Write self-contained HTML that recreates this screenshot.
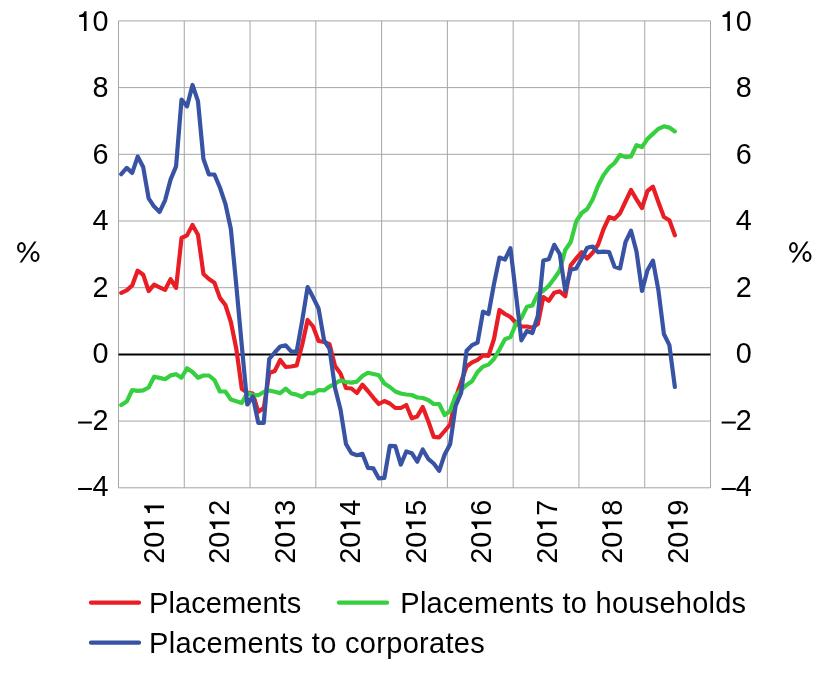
<!DOCTYPE html>
<html><head><meta charset="utf-8"><title>Chart</title>
<style>html,body{margin:0;padding:0;background:#fff;}body{width:828px;height:686px;overflow:hidden;font-family:"Liberation Sans", sans-serif;}svg{display:block;will-change:transform;}</style>
</head><body>
<svg width="828" height="686" viewBox="0 0 828 686"><defs><path id="one" d="M540 0H722V1409H575C545 1270 420 1160 200 1145V1003H540Z"/></defs><rect width="828" height="686" fill="#fff"/><g stroke="#a6a6a6" stroke-width="1" fill="none"><line x1="118.5" y1="20.90" x2="710.5" y2="20.90"/><line x1="118.5" y1="87.60" x2="710.5" y2="87.60"/><line x1="118.5" y1="154.30" x2="710.5" y2="154.30"/><line x1="118.5" y1="221.00" x2="710.5" y2="221.00"/><line x1="118.5" y1="287.70" x2="710.5" y2="287.70"/><line x1="118.5" y1="421.10" x2="710.5" y2="421.10"/><line x1="118.5" y1="487.80" x2="710.5" y2="487.80"/><line x1="118.50" y1="20.9" x2="118.50" y2="487.80"/><line x1="184.28" y1="20.9" x2="184.28" y2="487.80"/><line x1="250.06" y1="20.9" x2="250.06" y2="487.80"/><line x1="315.83" y1="20.9" x2="315.83" y2="487.80"/><line x1="381.61" y1="20.9" x2="381.61" y2="487.80"/><line x1="447.39" y1="20.9" x2="447.39" y2="487.80"/><line x1="513.17" y1="20.9" x2="513.17" y2="487.80"/><line x1="578.94" y1="20.9" x2="578.94" y2="487.80"/><line x1="644.72" y1="20.9" x2="644.72" y2="487.80"/><line x1="710.50" y1="20.9" x2="710.50" y2="487.80"/></g><line x1="118.5" y1="354.5" x2="710.5" y2="354.5" stroke="#000" stroke-width="2"/><polyline points="121.24,292.90 126.72,290.40 132.20,285.40 137.69,270.60 143.17,274.70 148.65,291.00 154.13,284.70 159.61,287.30 165.09,289.80 170.57,279.10 176.06,287.90 181.54,238.00 187.02,235.40 192.50,224.90 197.98,234.70 203.46,274.00 208.94,279.00 214.43,282.80 219.91,297.90 225.39,305.00 230.87,322.00 236.35,349.00 241.83,389.00 247.31,392.50 252.80,393.50 258.28,411.80 263.76,408.00 269.24,373.00 274.72,371.00 280.20,360.00 285.69,367.00 291.17,366.50 296.65,365.50 302.13,345.00 307.61,320.00 313.09,326.50 318.57,341.00 324.06,342.00 329.54,344.30 335.02,366.00 340.50,373.50 345.98,388.00 351.46,388.50 356.94,393.00 362.43,384.70 367.91,391.00 373.39,397.80 378.87,404.00 384.35,401.00 389.83,403.50 395.31,408.00 400.80,408.00 406.28,405.00 411.76,418.30 417.24,416.40 422.72,407.00 428.20,421.00 433.69,436.80 439.17,437.40 444.65,431.00 450.13,424.50 455.61,398.00 461.09,382.00 466.57,366.50 472.06,362.30 477.54,359.80 483.02,355.30 488.50,355.80 493.98,339.00 499.46,310.00 504.94,314.00 510.43,317.00 515.91,322.80 521.39,326.50 526.87,326.50 532.35,327.70 537.83,324.00 543.31,297.10 548.80,300.80 554.28,292.70 559.76,291.40 565.24,296.30 570.72,265.40 576.20,258.50 581.69,252.20 587.17,258.50 592.65,252.80 598.13,244.50 603.61,229.00 609.09,217.10 614.57,218.90 620.06,213.20 625.54,201.50 631.02,190.00 636.50,199.40 641.98,208.00 647.46,191.00 652.94,186.70 658.43,202.30 663.91,217.00 669.39,220.20 674.87,235.30" fill="none" stroke="#e91e25" stroke-width="4.2" stroke-linejoin="round" stroke-linecap="round"/><polyline points="121.24,405.10 126.72,401.60 132.20,390.00 137.69,390.90 143.17,390.30 148.65,387.50 154.13,376.70 159.61,377.90 165.09,379.20 170.57,375.40 176.06,374.20 181.54,377.70 187.02,368.30 192.50,372.00 197.98,377.70 203.46,375.50 208.94,375.50 214.43,380.00 219.91,391.50 225.39,391.50 230.87,399.60 236.35,401.30 241.83,403.00 247.31,393.00 252.80,395.00 258.28,395.20 263.76,392.00 269.24,390.50 274.72,391.70 280.20,393.10 285.69,388.60 291.17,393.50 296.65,394.60 302.13,397.00 307.61,393.00 313.09,393.50 318.57,390.00 324.06,390.40 329.54,386.60 335.02,383.60 340.50,380.30 345.98,382.00 351.46,382.60 356.94,381.60 362.43,376.00 367.91,372.80 373.39,374.00 378.87,375.30 384.35,383.50 389.83,387.00 395.31,391.50 400.80,393.50 406.28,394.50 411.76,395.00 417.24,397.50 422.72,398.00 428.20,400.00 433.69,404.00 439.17,404.00 444.65,415.00 450.13,410.80 455.61,395.50 461.09,390.00 466.57,385.00 472.06,381.30 477.54,372.00 483.02,366.60 488.50,364.60 493.98,359.00 499.46,349.50 504.94,339.20 510.43,337.10 515.91,324.00 521.39,318.00 526.87,306.80 532.35,305.50 537.83,293.90 543.31,290.80 548.80,285.80 554.28,278.50 559.76,270.50 565.24,250.00 570.72,242.00 576.20,221.50 581.69,213.00 587.17,209.00 592.65,199.50 598.13,185.50 603.61,175.00 609.09,167.70 614.57,163.00 620.06,155.00 625.54,157.10 631.02,156.50 636.50,145.20 641.98,147.10 647.46,138.90 652.94,133.90 658.43,128.80 663.91,126.30 669.39,127.60 674.87,131.40" fill="none" stroke="#35cf40" stroke-width="4.2" stroke-linejoin="round" stroke-linecap="round"/><polyline points="121.24,174.20 126.72,167.90 132.20,172.90 137.69,156.60 143.17,167.00 148.65,198.40 154.13,206.60 159.61,211.90 165.09,200.30 170.57,179.60 176.06,166.40 181.54,99.50 187.02,106.40 192.50,85.00 197.98,101.20 203.46,159.00 208.94,174.50 214.43,174.50 219.91,187.50 225.39,203.80 230.87,229.00 236.35,286.00 241.83,346.00 247.31,404.50 252.80,396.50 258.28,422.80 263.76,422.80 269.24,359.00 274.72,352.50 280.20,346.50 285.69,345.30 291.17,351.30 296.65,351.70 302.13,321.00 307.61,287.00 313.09,297.30 318.57,308.50 324.06,340.20 329.54,349.00 335.02,388.00 340.50,409.50 345.98,444.00 351.46,453.30 356.94,455.20 362.43,453.80 367.91,467.80 373.39,468.40 378.87,478.40 384.35,477.80 389.83,445.80 395.31,446.20 400.80,464.60 406.28,451.50 411.76,453.20 417.24,461.70 422.72,449.50 428.20,458.80 433.69,463.50 439.17,470.80 444.65,454.50 450.13,444.20 455.61,406.00 461.09,393.00 466.57,350.80 472.06,345.10 477.54,342.60 483.02,311.60 488.50,314.00 493.98,284.00 499.46,257.60 504.94,259.50 510.43,248.20 515.91,294.00 521.39,340.30 526.87,331.00 532.35,333.00 537.83,316.00 543.31,260.50 548.80,259.30 554.28,244.80 559.76,254.00 565.24,291.00 570.72,269.80 576.20,268.50 581.69,258.50 587.17,247.80 592.65,246.50 598.13,252.20 603.61,251.60 609.09,252.10 614.57,266.80 620.06,268.40 625.54,242.00 631.02,230.70 636.50,251.50 641.98,291.00 647.46,270.30 652.94,260.60 658.43,290.40 663.91,334.00 669.39,345.20 674.87,387.00" fill="none" stroke="#3953a4" stroke-width="4.2" stroke-linejoin="round" stroke-linecap="round"/><g font-family='"Liberation Sans", sans-serif' font-size="28.8" fill="#000"><text transform="translate(108.4,31.00) scale(1,1)" text-anchor="end"> 0</text><text transform="translate(751.8,31.00) scale(1,1)" text-anchor="end"> 0</text><text transform="translate(108.4,97.44) scale(1,1)" text-anchor="end">8</text><text transform="translate(751.8,97.44) scale(1,1)" text-anchor="end">8</text><text transform="translate(108.4,163.88) scale(1,1)" text-anchor="end">6</text><text transform="translate(751.8,163.88) scale(1,1)" text-anchor="end">6</text><text transform="translate(108.4,230.32) scale(1,1)" text-anchor="end">4</text><text transform="translate(751.8,230.32) scale(1,1)" text-anchor="end">4</text><text transform="translate(108.4,296.76) scale(1,1)" text-anchor="end">2</text><text transform="translate(751.8,296.76) scale(1,1)" text-anchor="end">2</text><text transform="translate(108.4,363.20) scale(1,1)" text-anchor="end">0</text><text transform="translate(751.8,363.20) scale(1,1)" text-anchor="end">0</text><text transform="translate(108.4,429.64) scale(1,1)" text-anchor="end">2</text><text transform="translate(751.8,429.64) scale(1,1)" text-anchor="end">2</text><text transform="translate(108.4,496.08) scale(1,1)" text-anchor="end">4</text><text transform="translate(751.8,496.08) scale(1,1)" text-anchor="end">4</text><text transform="translate(164.00,563.8) rotate(-90) scale(1,1)">20  </text><text transform="translate(229.45,563.8) rotate(-90) scale(1,1)">20 2</text><text transform="translate(294.90,563.8) rotate(-90) scale(1,1)">20 3</text><text transform="translate(360.35,563.8) rotate(-90) scale(1,1)">20 4</text><text transform="translate(425.80,563.8) rotate(-90) scale(1,1)">20 5</text><text transform="translate(491.25,563.8) rotate(-90) scale(1,1)">20 6</text><text transform="translate(556.70,563.8) rotate(-90) scale(1,1)">20 7</text><text transform="translate(622.15,563.8) rotate(-90) scale(1,1)">20 8</text><text transform="translate(687.60,563.8) rotate(-90) scale(1,1)">20 9</text><text x="149.0" y="613.0" font-size="29" letter-spacing="0.08">Placements</text><text x="400.3" y="613.0" font-size="29" letter-spacing="0.245">Placements to households</text><text x="149.0" y="653.1" font-size="29" letter-spacing="0.30">Placements to corporates</text></g><g fill="#000"><rect x="78.1" y="421.54" width="13.8" height="2"/><rect x="721.6" y="421.54" width="14.2" height="2"/><rect x="78.1" y="487.98" width="13.8" height="2"/><rect x="721.6" y="487.98" width="14.2" height="2"/><use href="#one" transform="translate(108.4,31.00) scale(1,1) translate(-32.03,0) scale(0.014063,-0.014063)"/><use href="#one" transform="translate(751.8,31.00) scale(1,1) translate(-32.03,0) scale(0.014063,-0.014063)"/><use href="#one" transform="translate(164.00,563.8) rotate(-90) scale(1,1) translate(32.03,0) scale(0.014063,-0.014063)"/><use href="#one" transform="translate(164.00,563.8) rotate(-90) scale(1,1) translate(48.05,0) scale(0.014063,-0.014063)"/><use href="#one" transform="translate(229.45,563.8) rotate(-90) scale(1,1) translate(32.03,0) scale(0.014063,-0.014063)"/><use href="#one" transform="translate(294.90,563.8) rotate(-90) scale(1,1) translate(32.03,0) scale(0.014063,-0.014063)"/><use href="#one" transform="translate(360.35,563.8) rotate(-90) scale(1,1) translate(32.03,0) scale(0.014063,-0.014063)"/><use href="#one" transform="translate(425.80,563.8) rotate(-90) scale(1,1) translate(32.03,0) scale(0.014063,-0.014063)"/><use href="#one" transform="translate(491.25,563.8) rotate(-90) scale(1,1) translate(32.03,0) scale(0.014063,-0.014063)"/><use href="#one" transform="translate(556.70,563.8) rotate(-90) scale(1,1) translate(32.03,0) scale(0.014063,-0.014063)"/><use href="#one" transform="translate(622.15,563.8) rotate(-90) scale(1,1) translate(32.03,0) scale(0.014063,-0.014063)"/><use href="#one" transform="translate(687.60,563.8) rotate(-90) scale(1,1) translate(32.03,0) scale(0.014063,-0.014063)"/></g><g fill="#000"><path fill-rule="evenodd" d="M17.05,247.45a4.4,5.35 0 1,0 8.80,0a4.4,5.35 0 1,0 -8.80,0ZM19.15,247.45a2.3,3.55 0 1,0 4.60,0a2.3,3.55 0 1,0 -4.60,0ZM30.50,256.50a4.5,5.4 0 1,0 9.00,0a4.5,5.4 0 1,0 -9.00,0ZM32.60,256.50a2.4,3.6 0 1,0 4.80,0a2.4,3.6 0 1,0 -4.80,0Z"/><polygon points="19.6,262.5 21.9,262.5 36.5,241.5 34.2,241.5"/></g><g fill="#000" transform="translate(772,0)"><path fill-rule="evenodd" d="M17.05,247.45a4.4,5.35 0 1,0 8.80,0a4.4,5.35 0 1,0 -8.80,0ZM19.15,247.45a2.3,3.55 0 1,0 4.60,0a2.3,3.55 0 1,0 -4.60,0ZM30.50,256.50a4.5,5.4 0 1,0 9.00,0a4.5,5.4 0 1,0 -9.00,0ZM32.60,256.50a2.4,3.6 0 1,0 4.80,0a2.4,3.6 0 1,0 -4.80,0Z"/><polygon points="19.6,262.5 21.9,262.5 36.5,241.5 34.2,241.5"/></g><g stroke-width="4.3" stroke-linecap="round"><line x1="91" y1="602.7" x2="139" y2="602.7" stroke="#e91e25"/><line x1="339" y1="602.7" x2="387" y2="602.7" stroke="#35cf40"/><line x1="91" y1="642.7" x2="139" y2="642.7" stroke="#3953a4"/></g></svg>
</body></html>
